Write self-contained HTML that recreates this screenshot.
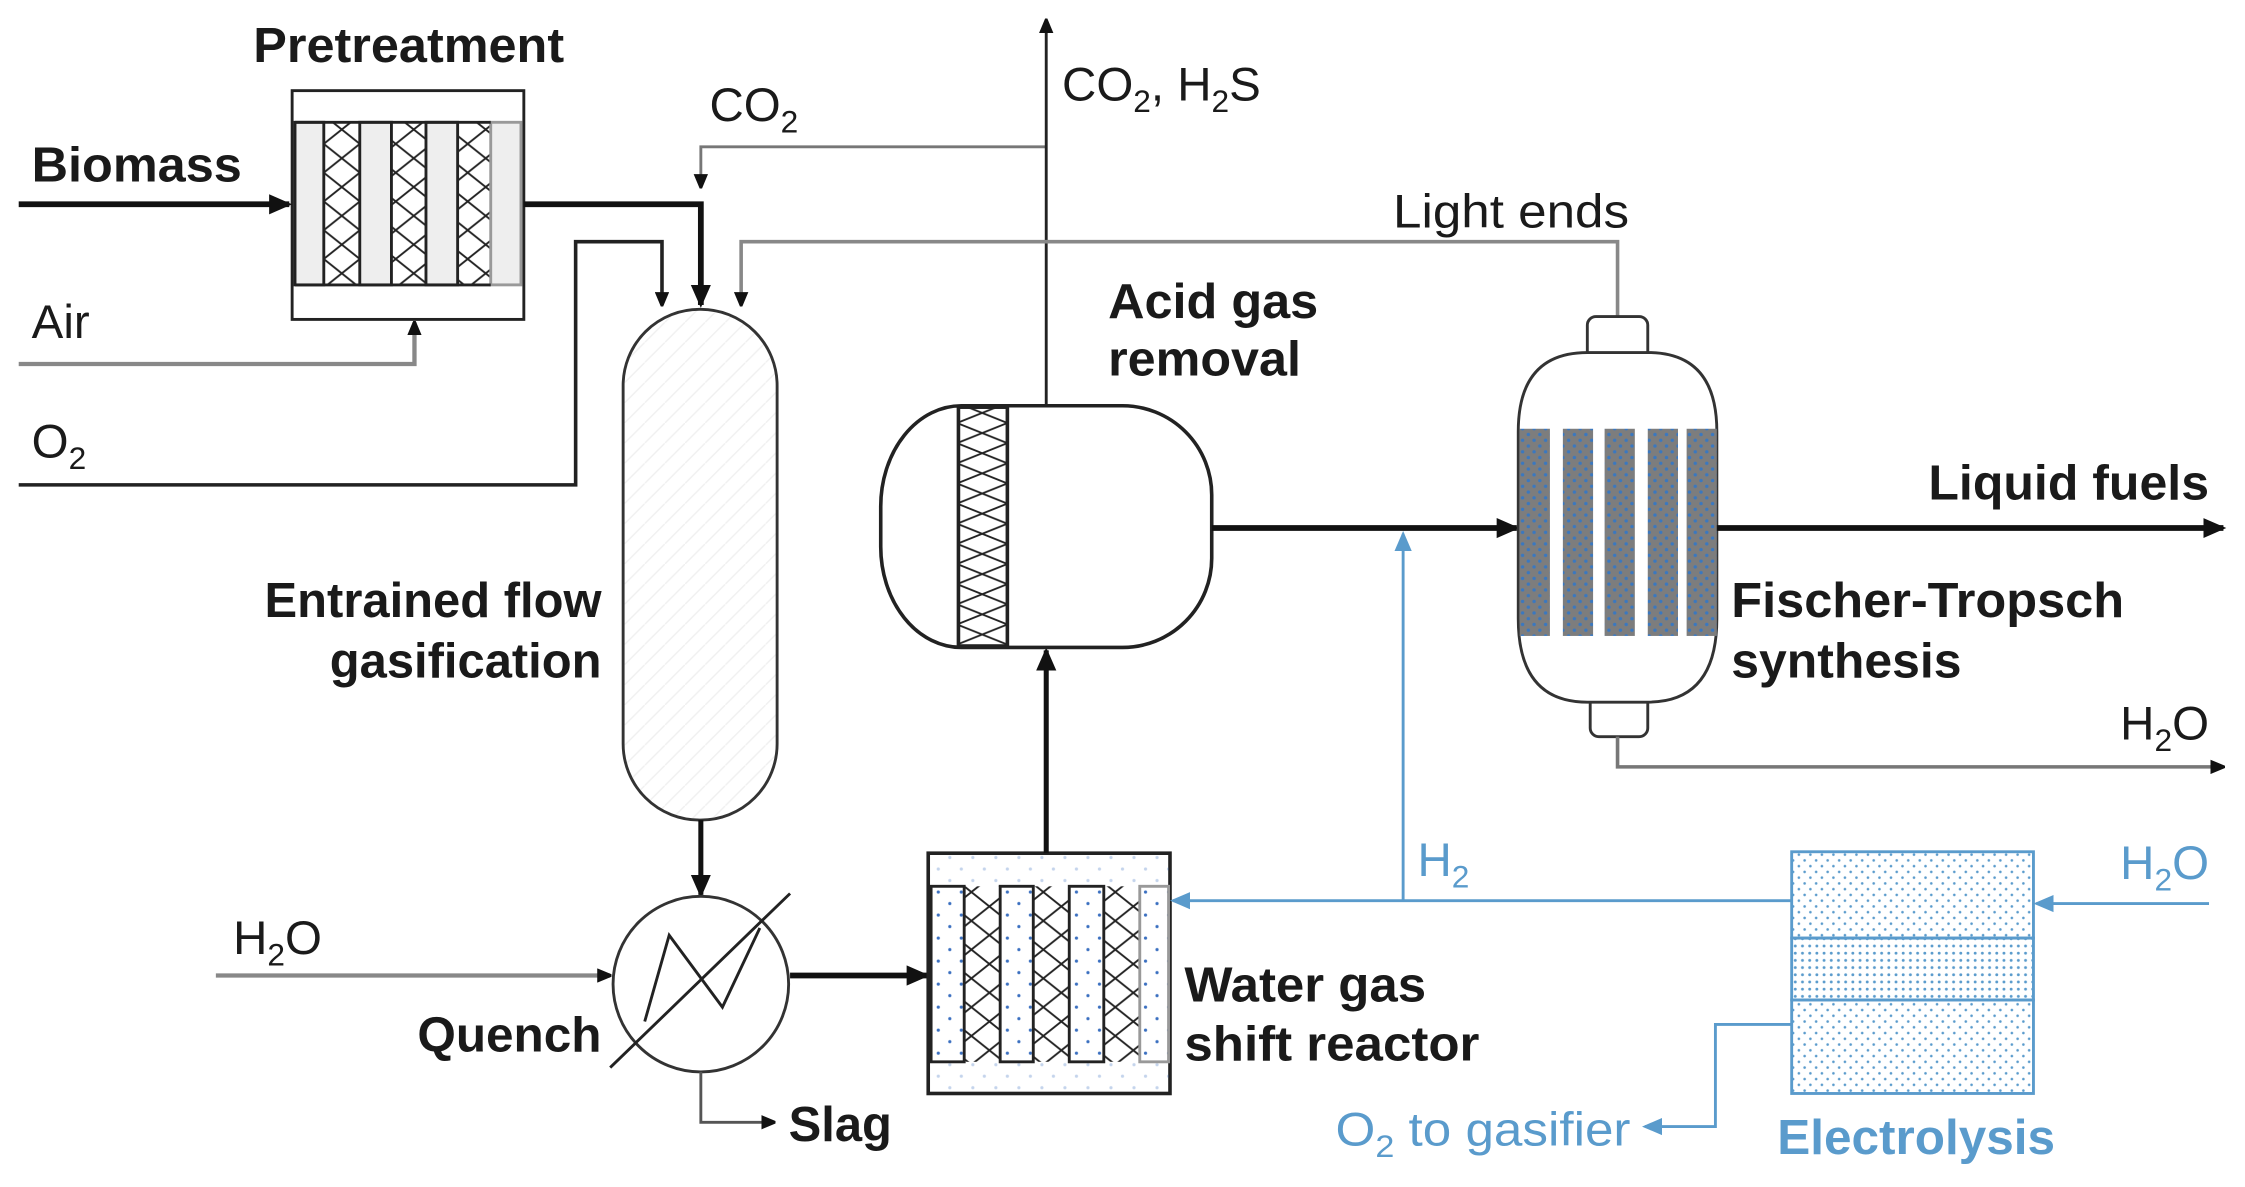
<!DOCTYPE html>
<html><head><meta charset="utf-8"><style>
html,body{margin:0;padding:0;background:#fff;}
svg{display:block;}
text{font-family:"Liberation Sans",Arial,sans-serif;}
.b{font-weight:bold;fill:#1a1a1a;}
.r{fill:#1a1a1a;}
.bl{fill:#5a9bcc;}
</style></head><body>
<svg width="2245" height="1187" viewBox="0 0 1560 825" preserveAspectRatio="none" xmlns="http://www.w3.org/2000/svg">
<defs>
<marker id="ak" markerWidth="10" markerHeight="10" refX="9" refY="5" orient="auto" markerUnits="userSpaceOnUse"><path d="M0,0 L12,5 L0,10 z" fill="#111"/></marker>
<marker id="ak2" markerWidth="16" markerHeight="16" refX="14" refY="8" orient="auto" markerUnits="userSpaceOnUse"><path d="M0,1 L16,8 L0,15 z" fill="#111"/></marker>
<marker id="ab" markerWidth="14" markerHeight="14" refX="12" refY="7" orient="auto" markerUnits="userSpaceOnUse"><path d="M0,1 L14,7 L0,13 z" fill="#5a9bcc"/></marker>
<pattern id="xh" width="25" height="20" patternUnits="userSpaceOnUse"><path d="M0,0 L25,20 M25,0 L0,20" stroke="#222" stroke-width="1.3"/></pattern>
<pattern id="xh2" width="35" height="14" patternUnits="userSpaceOnUse"><path d="M0,0 L35,14 M35,0 L0,14" stroke="#222" stroke-width="1.3"/></pattern>
<pattern id="dt" width="16" height="16" patternUnits="userSpaceOnUse"><circle cx="4" cy="4" r="1.1" fill="#3a6fc0"/><circle cx="12" cy="12" r="1.1" fill="#3a6fc0"/></pattern>
<pattern id="dtb" width="8" height="8" patternUnits="userSpaceOnUse"><circle cx="2" cy="2" r="0.9" fill="#5a9bcc"/><circle cx="6" cy="6" r="0.9" fill="#5a9bcc"/></pattern>
<pattern id="dtb2" width="5" height="5" patternUnits="userSpaceOnUse"><circle cx="2.5" cy="2.5" r="1" fill="#5a9bcc"/></pattern>
<pattern id="ft" width="8" height="8" patternUnits="userSpaceOnUse"><rect width="8" height="8" fill="#7d7d7d"/><circle cx="2" cy="2" r="1.2" fill="#3a78c0"/><circle cx="6" cy="6" r="1.2" fill="#3a78c0"/></pattern>
<pattern id="hat" width="14" height="14" patternUnits="userSpaceOnUse"><path d="M0,14 L14,0" stroke="#f0f0f0" stroke-width="1"/></pattern>
</defs>

<!-- Pretreatment -->
<rect x="203" y="63" width="161" height="159" fill="#fff" stroke="#222" stroke-width="2"/>
<rect x="225" y="85" width="25" height="113" fill="url(#xh)"/>
<rect x="272" y="85" width="24" height="113" fill="url(#xh)"/>
<rect x="318" y="85" width="23" height="113" fill="url(#xh)"/>
<rect x="205" y="85" width="20" height="113" fill="#eee" stroke="#222" stroke-width="2"/>
<rect x="250" y="85" width="22" height="113" fill="#eee" stroke="#222" stroke-width="2"/>
<rect x="296" y="85" width="22" height="113" fill="#eee" stroke="#222" stroke-width="2"/>
<rect x="341" y="85" width="21" height="113" fill="#eee" stroke="#999" stroke-width="2"/>
<path d="M205,85 H341 M205,198 H341" stroke="#222" stroke-width="2"/>
<text x="176" y="43" class="b" font-size="34" textLength="216" lengthAdjust="spacingAndGlyphs">Pretreatment</text>

<!-- Biomass -->
<line x1="13" y1="142" x2="201" y2="142" stroke="#111" stroke-width="4" marker-end="url(#ak2)"/>
<text x="22" y="126" class="b" font-size="34" textLength="146" lengthAdjust="spacingAndGlyphs">Biomass</text>
<path d="M364,142 H487 V212" fill="none" stroke="#111" stroke-width="4" marker-end="url(#ak2)"/>
<!-- CO2 recycle -->
<path d="M727,102 H487 V130" fill="none" stroke="#777" stroke-width="2" marker-end="url(#ak)"/>
<text x="493" y="84" class="r" font-size="33">CO<tspan font-size="22" dy="8">2</tspan></text>
<!-- CO2 H2S -->
<line x1="727" y1="282" x2="727" y2="14" stroke="#222" stroke-width="2" marker-end="url(#ak)"/>
<text x="738" y="70" class="r" font-size="33">CO<tspan font-size="22" dy="8">2</tspan><tspan dy="-8">, H</tspan><tspan font-size="22" dy="8">2</tspan><tspan dy="-8">S</tspan></text>
<!-- Air -->
<path d="M13,253 H288 V224" fill="none" stroke="#888" stroke-width="3" marker-end="url(#ak)"/>
<text x="22" y="235" class="r" font-size="33">Air</text>
<!-- O2 -->
<path d="M13,337 H400 V168 H460 V212" fill="none" stroke="#222" stroke-width="2.5" marker-end="url(#ak)"/>
<text x="22" y="318" class="r" font-size="33">O<tspan font-size="22" dy="8">2</tspan></text>
<!-- Light ends -->
<path d="M1124,220 V168 H515 V212" fill="none" stroke="#888" stroke-width="2.5" marker-end="url(#ak)"/>
<text x="968" y="158" class="r" font-size="33" textLength="164" lengthAdjust="spacingAndGlyphs">Light ends</text>

<!-- Gasifier -->
<rect x="433" y="215" width="107" height="355" rx="53" fill="url(#hat)" stroke="#333" stroke-width="2"/>
<text x="418" y="429" class="b" font-size="34" text-anchor="end">Entrained flow</text>
<text x="418" y="471" class="b" font-size="34" text-anchor="end">gasification</text>
<line x1="487" y1="570" x2="487" y2="622" stroke="#111" stroke-width="3.5" marker-end="url(#ak2)"/>

<!-- Quench -->
<circle cx="487" cy="684" r="61" fill="#fff" stroke="#333" stroke-width="2"/>
<path d="M448,710 L465,650 L502,700 L528,645" fill="none" stroke="#222" stroke-width="2"/>
<line x1="424" y1="742" x2="549" y2="621" stroke="#222" stroke-width="2"/>
<line x1="150" y1="678" x2="424" y2="678" stroke="#888" stroke-width="3" marker-end="url(#ak)"/>
<text x="162" y="663" class="r" font-size="33">H<tspan font-size="22" dy="8">2</tspan><tspan dy="-8">O</tspan></text>
<text x="290" y="731" class="b" font-size="34" textLength="128" lengthAdjust="spacingAndGlyphs">Quench</text>
<line x1="549" y1="678" x2="644" y2="678" stroke="#111" stroke-width="4" marker-end="url(#ak2)"/>
<path d="M487,745 V780 H538" fill="none" stroke="#555" stroke-width="2" marker-end="url(#ak)"/>
<text x="548" y="793" class="b" font-size="34">Slag</text>

<!-- WGS reactor -->
<rect x="645" y="593" width="168" height="167" fill="#fff" stroke="#222" stroke-width="2.5"/>
<rect x="646" y="594" width="166" height="22" fill="url(#dt)" opacity="0.3"/>
<rect x="646" y="738" width="166" height="21" fill="url(#dt)" opacity="0.3"/>
<rect x="670" y="616" width="25" height="122" fill="url(#xh)"/>
<rect x="718" y="616" width="25" height="122" fill="url(#xh)"/>
<rect x="767" y="616" width="25" height="122" fill="url(#xh)"/>
<rect x="647" y="616" width="23" height="122" fill="url(#dt)" stroke="#222" stroke-width="2"/>
<rect x="695" y="616" width="23" height="122" fill="url(#dt)" stroke="#222" stroke-width="2"/>
<rect x="743" y="616" width="24" height="122" fill="url(#dt)" stroke="#222" stroke-width="2"/>
<rect x="792" y="616" width="20" height="122" fill="url(#dt)" stroke="#999" stroke-width="2"/>
<text x="823" y="696" class="b" font-size="34" textLength="168" lengthAdjust="spacingAndGlyphs">Water gas</text>
<text x="823" y="737" class="b" font-size="34" textLength="205" lengthAdjust="spacingAndGlyphs">shift reactor</text>
<line x1="727" y1="593" x2="727" y2="452" stroke="#111" stroke-width="3.5" marker-end="url(#ak2)"/>

<!-- Acid gas removal -->
<path d="M668,282 H780 A62,62 0 0 1 842,344 V388 A62,62 0 0 1 780,450 H668 A56,70 0 0 1 612,380 V352 A56,70 0 0 1 668,282 Z" fill="#fff" stroke="#222" stroke-width="2.5"/>
<rect x="666" y="283" width="34" height="166" fill="url(#xh2)" stroke="#222" stroke-width="2.5"/>
<text x="770" y="221" class="b" font-size="34" textLength="146" lengthAdjust="spacingAndGlyphs">Acid gas</text>
<text x="770" y="261" class="b" font-size="34" textLength="134" lengthAdjust="spacingAndGlyphs">removal</text>
<line x1="842" y1="367" x2="1054" y2="367" stroke="#111" stroke-width="4" marker-end="url(#ak2)"/>

<!-- FT reactor -->
<rect x="1103" y="220" width="42" height="30" rx="6" fill="#fff" stroke="#333" stroke-width="2"/>
<rect x="1105" y="475" width="40" height="37" rx="6" fill="#fff" stroke="#333" stroke-width="2"/>
<path d="M1103,245 H1145 Q1193,245 1193,300 V430 Q1193,488 1145,488 H1103 Q1055,488 1055,430 V300 Q1055,245 1103,245 Z" fill="#fff" stroke="#333" stroke-width="2"/>
<rect x="1056" y="298" width="21" height="144" fill="url(#ft)"/>
<rect x="1086" y="298" width="21" height="144" fill="url(#ft)"/>
<rect x="1115" y="298" width="21" height="144" fill="url(#ft)"/>
<rect x="1145" y="298" width="21" height="144" fill="url(#ft)"/>
<rect x="1172" y="298" width="21" height="144" fill="url(#ft)"/>
<line x1="1193" y1="367" x2="1545" y2="367" stroke="#111" stroke-width="4" marker-end="url(#ak2)"/>
<text x="1340" y="347" class="b" font-size="34" textLength="195" lengthAdjust="spacingAndGlyphs">Liquid fuels</text>
<text x="1203" y="429" class="b" font-size="34" textLength="273" lengthAdjust="spacingAndGlyphs">Fischer-Tropsch</text>
<text x="1203" y="471" class="b" font-size="34" textLength="160" lengthAdjust="spacingAndGlyphs">synthesis</text>
<path d="M1124,512 V533 H1545" fill="none" stroke="#777" stroke-width="2.5" marker-end="url(#ak)"/>
<text x="1535" y="514" class="r" font-size="33" text-anchor="end">H<tspan font-size="22" dy="8">2</tspan><tspan dy="-8">O</tspan></text>

<!-- H2 lines -->
<path d="M1245,626 H815" fill="none" stroke="#5a9bcc" stroke-width="2" marker-end="url(#ab)"/>
<path d="M975,626 V371" fill="none" stroke="#5a9bcc" stroke-width="2" marker-end="url(#ab)"/>
<text x="985" y="609" class="bl" font-size="33">H<tspan font-size="22" dy="8">2</tspan></text>

<!-- Electrolysis -->
<rect x="1245" y="592" width="168" height="60" fill="url(#dtb)" stroke="#5a9bcc" stroke-width="2"/>
<rect x="1245" y="652" width="168" height="43" fill="url(#dtb2)" stroke="#5a9bcc" stroke-width="2"/>
<rect x="1245" y="695" width="168" height="65" fill="url(#dtb)" stroke="#5a9bcc" stroke-width="2"/>
<line x1="1535" y1="628" x2="1415" y2="628" stroke="#5a9bcc" stroke-width="2" marker-end="url(#ab)"/>
<text x="1535" y="611" class="bl" font-size="33" text-anchor="end">H<tspan font-size="22" dy="8">2</tspan><tspan dy="-8">O</tspan></text>
<path d="M1245,712 H1192 V783 H1143" fill="none" stroke="#5a9bcc" stroke-width="2" marker-end="url(#ab)"/>
<text x="928" y="796" class="bl" font-size="33" textLength="205" lengthAdjust="spacingAndGlyphs">O<tspan font-size="22" dy="8">2</tspan><tspan dy="-8"> to gasifier</tspan></text>
<text x="1235" y="802" class="bl" font-size="34" font-weight="bold" textLength="193" lengthAdjust="spacingAndGlyphs">Electrolysis</text>
</svg>
</body></html>
